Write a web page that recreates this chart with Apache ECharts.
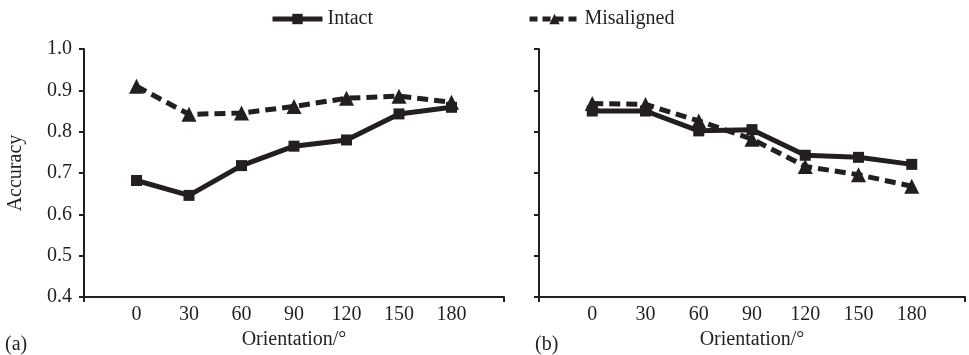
<!DOCTYPE html>
<html>
<head>
<meta charset="utf-8">
<script src="https://cdn.jsdelivr.net/npm/echarts@6/dist/echarts.min.js"></script>
<style>html,body{margin:0;padding:0;background:#fff;}#c{width:969px;height:355px;}</style>
</head>
<body>
<div id="c"></div>
<script>
const orientations = [0, 30, 60, 90, 120, 150, 180];
const intactA = [0.682, 0.646, 0.718, 0.765, 0.780, 0.843, 0.859];
const misalignedA = [0.910, 0.842, 0.845, 0.861, 0.881, 0.886, 0.871];
const intactB = [0.850, 0.850, 0.802, 0.805, 0.743, 0.738, 0.721];
const misalignedB = [0.868, 0.866, 0.826, 0.782, 0.716, 0.696, 0.668];
const yTicks = [0.4, 0.5, 0.6, 0.7, 0.8, 0.9, 1.0];

const INK = '#231f20';
const FONT = 'Liberation Serif';
const FS = 20;
const cats = [''].concat(orientations.map(String)).concat(['']);
const last = cats.length - 1;

function xAxis(gi) {
  return {
    type: 'category', gridIndex: gi, data: cats, boundaryGap: false,
    axisLine: {lineStyle: {color: INK, width: 2}},
    axisTick: {show: true, length: 5, lineStyle: {color: INK, width: 2},
      interval: (i) => i === 0 || i === last},
    axisLabel: {color: INK, fontFamily: FONT, fontSize: FS, margin: 8, interval: 0},
    name: 'Orientation/°', nameLocation: 'middle', nameGap: 31,
    nameTextStyle: {color: INK, fontFamily: FONT, fontSize: FS},
    splitLine: {show: false}
  };
}
function yAxis(gi, labels) {
  const a = {
    type: 'value', gridIndex: gi, min: yTicks[0], max: yTicks[yTicks.length - 1], interval: 0.1,
    axisLine: {show: true, lineStyle: {color: INK, width: 2}},
    axisTick: {show: true, length: 5, lineStyle: {color: INK, width: 2}},
    axisLabel: {show: labels, color: INK, fontFamily: FONT, fontSize: FS, margin: 12,
      formatter: (v) => v.toFixed(1)},
    splitLine: {show: false}
  };
  if (labels) {
    a.name = 'Accuracy'; a.nameLocation = 'middle'; a.nameGap = 58;
    a.nameTextStyle = {color: INK, fontFamily: FONT, fontSize: FS};
  }
  return a;
}
function pairs(vals) { return vals.map((v, i) => [String(orientations[i]), v]); }
function intactSeries(gi, vals) {
  return {name: 'Intact', type: 'line', xAxisIndex: gi, yAxisIndex: gi, data: pairs(vals),
    symbol: 'rect', symbolSize: 11, itemStyle: {color: INK},
    lineStyle: {color: INK, width: 5}, z: 3};
}
function misSeries(gi, vals) {
  return {name: 'Misaligned', type: 'line', xAxisIndex: gi, yAxisIndex: gi, data: pairs(vals),
    symbol: 'triangle', symbolSize: 15, itemStyle: {color: INK},
    lineStyle: {color: INK, width: 5, type: [11, 6]}, z: 2};
}

const chart = echarts.init(document.getElementById('c'), null, {renderer: 'canvas'});
chart.setOption({
  animation: false,
  backgroundColor: '#fff',
  grid: [
    {left: 84, top: 49, width: 420, height: 249},
    {left: 539, top: 49, width: 426, height: 249}
  ],
  xAxis: [xAxis(0), xAxis(1)],
  yAxis: [yAxis(0, true), yAxis(1, false)],
  legend: [
    {data: ['Intact'], left: 270, top: 9, padding: 0, itemWidth: 50, itemHeight: 13, itemGap: 10,
      lineStyle: {width: 5, color: INK},
      textStyle: {color: INK, fontFamily: FONT, fontSize: FS}},
    {data: ['Misaligned'], left: 527, top: 9, padding: 0, itemWidth: 50, itemHeight: 13, itemGap: 10,
      lineStyle: {width: 5, color: INK, type: [8, 5]},
      textStyle: {color: INK, fontFamily: FONT, fontSize: FS}}
  ],
  graphic: [
    {type: 'text', left: 5, top: 335, style: {text: '(a)', fill: INK, font: FS + 'px "' + FONT + '"'}},
    {type: 'text', left: 535, top: 335, style: {text: '(b)', fill: INK, font: FS + 'px "' + FONT + '"'}}
  ],
  series: [intactSeries(0, intactA), misSeries(0, misalignedA), intactSeries(1, intactB), misSeries(1, misalignedB)]
});
</script>
</body>
</html>
